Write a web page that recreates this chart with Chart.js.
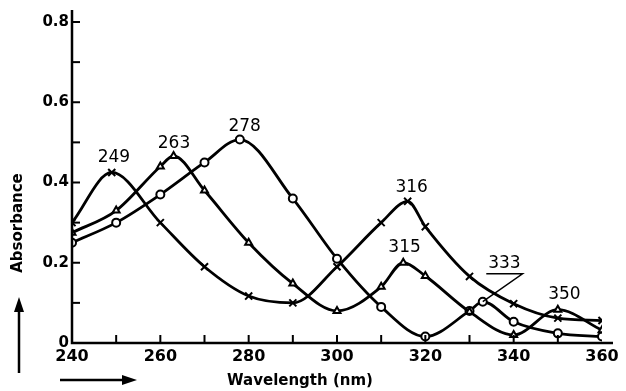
<!DOCTYPE html>
<html>
<head>
<meta charset="utf-8">
<script src="https://cdn.jsdelivr.net/npm/chart.js@4/dist/chart.umd.min.js"></script>
<style>
  html, body { margin: 0; padding: 0; background: #fff; }
  #wrap { width: 626px; height: 391px; }
</style>
</head>
<body>
<div id="wrap"><canvas id="specChart"></canvas></div>
<script>
// wavelengths (nm) and absorbance
var crossX = [240, 249, 260, 270, 280, 290, 300, 310, 316, 320, 330, 340, 350, 360];
var crossY = [0.30, 0.425, 0.30, 0.19, 0.117, 0.10, 0.19, 0.30, 0.353, 0.29, 0.166, 0.098, 0.062, 0.056];

var triX = [240, 250, 260, 263, 270, 280, 290, 300, 310, 315, 320, 330, 340, 350, 360];
var triY = [0.275, 0.33, 0.44, 0.466, 0.38, 0.25, 0.148, 0.08, 0.14, 0.20, 0.167, 0.078, 0.02, 0.083, 0.032];

var circX = [240, 250, 260, 270, 278, 290, 300, 310, 320, 330, 333, 340, 350, 360];
var circY = [0.25, 0.30, 0.37, 0.45, 0.507, 0.36, 0.21, 0.09, 0.016, 0.08, 0.103, 0.053, 0.024, 0.016];

// peak labels: text, and where they sit in data units
var peakText = ['249', '263', '278', '316', '315', '333', '350'];
var peakX = [249.5, 263.1, 279.1, 316.9, 315.3, 337.9, 351.5];
var peakY = [0.462, 0.497, 0.54, 0.387, 0.239, 0.197, 0.12];

var xTicks = [240, 260, 280, 300, 320, 340, 360];
var yTicks = [0, 0.2, 0.4, 0.6, 0.8];

var FONT = '"DejaVu Sans", sans-serif';

function pts(xs, ys) {
  return xs.map(function (x, i) { return { x: x, y: ys[i] }; });
}

function series(data, style) {
  return {
    data: data,
    borderColor: '#000',
    borderWidth: 2.8,
    backgroundColor: '#fff',
    pointStyle: style,
    pointRadius: style === 'crossRot' ? 5 : 4,
    pointBorderWidth: 2,
    pointBorderColor: '#000',
    pointBackgroundColor: '#fff',
    cubicInterpolationMode: 'monotone',
    fill: false
  };
}

// inward ticks, axis lines, peak labels, axis titles with arrows
var decor = {
  id: 'decor',
  afterDraw: function (chart) {
    var ctx = chart.ctx;
    var xs = chart.scales.x, ys = chart.scales.y;
    var a = chart.chartArea;
    ctx.save();
    ctx.strokeStyle = '#000';
    ctx.fillStyle = '#000';

    // axes
    ctx.lineWidth = 2.5;
    ctx.beginPath();
    ctx.moveTo(a.left, a.top - 12);
    ctx.lineTo(a.left, a.bottom);
    ctx.lineTo(a.right + 11, a.bottom);
    ctx.stroke();

    // inward ticks every 10 nm and every 0.1
    ctx.lineWidth = 2;
    for (var w = 250; w < 360; w += 10) {
      var px = xs.getPixelForValue(w);
      ctx.beginPath();
      ctx.moveTo(px, a.bottom);
      ctx.lineTo(px, a.bottom - 8);
      ctx.stroke();
    }
    for (var k = 1; k <= 8; k++) {
      var py = ys.getPixelForValue(k / 10);
      ctx.beginPath();
      ctx.moveTo(a.left, py);
      ctx.lineTo(a.left + 8, py);
      ctx.stroke();
    }

    // peak labels
    ctx.font = '17px ' + FONT;
    ctx.textAlign = 'center';
    ctx.textBaseline = 'middle';
    peakText.forEach(function (t, i) {
      ctx.fillText(t, xs.getPixelForValue(peakX[i]), ys.getPixelForValue(peakY[i]));
    });

    // underline and leader for 333
    ctx.lineWidth = 1.5;
    var uy = ys.getPixelForValue(0.1725);
    var ux0 = xs.getPixelForValue(333.8), ux1 = xs.getPixelForValue(342);
    ctx.beginPath();
    ctx.moveTo(ux0, uy);
    ctx.lineTo(ux1, uy);
    ctx.lineTo(xs.getPixelForValue(333), ys.getPixelForValue(0.103));
    ctx.stroke();

    // axis titles
    ctx.font = 'bold 15px ' + FONT;
    ctx.fillText('Wavelength (nm)', 300, 381);
    ctx.save();
    ctx.translate(18, 223);
    ctx.rotate(-Math.PI / 2);
    ctx.fillText('Absorbance', 0, 0);
    ctx.restore();

    // arrows
    ctx.lineWidth = 2.5;
    ctx.beginPath();
    ctx.moveTo(60, 380);
    ctx.lineTo(126, 380);
    ctx.stroke();
    ctx.beginPath();
    ctx.moveTo(137, 380);
    ctx.lineTo(122, 375);
    ctx.lineTo(122, 385);
    ctx.closePath();
    ctx.fill();

    ctx.beginPath();
    ctx.moveTo(19, 373);
    ctx.lineTo(19, 308);
    ctx.stroke();
    ctx.beginPath();
    ctx.moveTo(19, 297);
    ctx.lineTo(14, 312);
    ctx.lineTo(24, 312);
    ctx.closePath();
    ctx.fill();

    ctx.restore();
  }
};

new Chart(document.getElementById('specChart'), {
  type: 'line',
  data: {
    datasets: [
      series(pts(crossX, crossY), 'crossRot'),
      series(pts(triX, triY), 'triangle'),
      series(pts(circX, circY), 'circle')
    ]
  },
  options: {
    responsive: true,
    maintainAspectRatio: false,
    animation: false,
    layout: { padding: { top: 22, right: 24, left: 0, bottom: 0 } },
    plugins: {
      legend: { display: false },
      tooltip: { enabled: false }
    },
    scales: {
      x: {
        type: 'linear',
        min: 240,
        max: 360,
        afterBuildTicks: function (s) { s.ticks = xTicks.map(function (v) { return { value: v }; }); },
        afterFit: function (s) { s.height = 48; },
        grid: { display: false, drawTicks: false },
        border: { display: false },
        ticks: { color: '#000', padding: 4, font: { family: FONT, size: 16, weight: 'bold' }, maxRotation: 0 }
      },
      y: {
        min: 0,
        max: 0.8,
        afterBuildTicks: function (s) { s.ticks = yTicks.map(function (v) { return { value: v }; }); },
        afterFit: function (s) { s.width = 72; },
        grid: { display: false, drawTicks: false },
        border: { display: false },
        ticks: {
          color: '#000',
          padding: 3,
          font: { family: FONT, size: 15, weight: 'bold' },
          callback: function (v) { return v === 0 ? '0' : v.toFixed(1); }
        }
      }
    }
  },
  plugins: [decor]
});
</script>
</body>
</html>
